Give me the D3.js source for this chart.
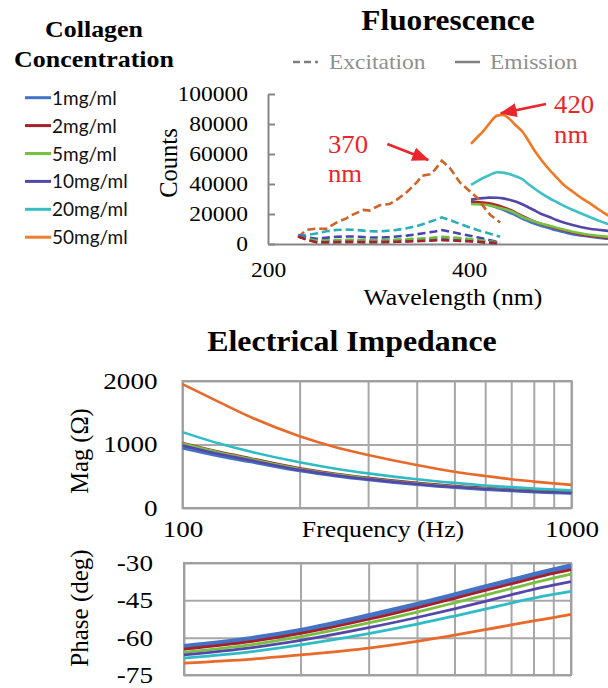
<!DOCTYPE html>
<html><head><meta charset="utf-8">
<script src="https://cdn.jsdelivr.net/npm/d3@7"></script>
<style>html,body{margin:0;padding:0;background:#fff;overflow:hidden}</style>
</head><body>
<svg id="c" width="608" height="688"></svg>
<script>
// ---------------- DATA ----------------
const seriesLabels = ['1mg/ml','2mg/ml','5mg/ml','10mg/ml','20mg/ml','50mg/ml'];

// Fluorescence excitation (dashed), counts in thousands
const exWave = [230,238,248,258,268,278,285,295,301,311,321,328,338,348,353,361,366,373,381,391,401,409,414,421,431];
const ex1  = [5.5,3.8,1.8,1.6,1.7,1.8,1.8,1.7,1.7,1.7,1.8,2.0,2.3,2.6,2.8,3.1,3.3,3.6,3.3,2.9,2.4,2.0,1.7,1.2,0.6];
const ex2  = [5.0,3.0,1.2,1.2,1.3,1.4,1.4,1.3,1.3,1.3,1.4,1.5,1.7,1.9,2.0,2.2,2.4,2.6,2.4,2.1,1.8,1.5,1.2,0.9,0.5];
const ex5  = [5.0,3.5,2.2,2.4,2.6,2.8,2.8,2.6,2.5,2.5,2.7,2.9,3.2,3.5,3.7,4.0,4.3,4.8,4.4,3.9,3.3,2.7,2.3,1.7,0.9];
const ex10 = [5.5,4.5,3.5,4.2,4.8,5.0,5.0,4.6,4.3,4.3,4.6,5.0,5.6,6.5,7.0,7.8,8.3,9.3,8.2,6.8,5.5,4.4,3.6,2.5,1.0];
const ex20 = [5.5,6.0,7.0,8.5,9.3,9.6,9.5,8.9,8.5,8.4,8.9,9.4,10.5,12.0,13.0,14.8,15.9,17.8,16.0,13.4,11.0,9.2,8.2,6.8,4.8];
const ex50 = [4.5,9.4,10.2,10.2,14.3,17.1,19.8,22.7,22.3,25.8,26.7,29.4,34.5,41.0,45.4,46.5,49.4,55.5,50.6,41.0,35.0,30.3,25.4,19.4,14.3];

// Fluorescence emission (solid), counts in thousands
const emWave = [402,408,414,420,428,434,440,447,453,459,465,472,480,487,495,503,511,520,528,536,550];
const em1  = [28.7,27.8,26.8,26.0,24.2,22.8,21.0,19.0,16.9,15.2,13.6,12.0,10.5,9.1,7.8,6.5,5.7,4.9,4.2,3.6,3.0];
const em2  = [28.2,28.0,27.6,27.1,25.8,24.5,23.0,20.8,18.7,16.8,15.0,13.4,11.8,10.4,9.0,7.6,6.6,5.6,4.9,4.2,3.5];
const em5  = [26.7,26.5,26.2,25.8,24.5,23.5,22.3,20.2,18.0,16.5,15.0,13.5,12.2,10.9,9.5,8.2,7.2,6.2,5.5,4.9,4.2];
const em10 = [29.6,30.2,30.6,30.9,30.8,30.4,29.5,28.2,26.5,24.5,22.5,20.0,18.0,16.0,14.2,12.7,11.4,10.2,9.5,8.9,8.0];
const em20 = [39.4,41.8,44.0,45.8,47.8,47.6,46.7,45.0,43.2,40.0,37.0,33.8,30.5,28.0,25.2,22.8,20.5,18.0,15.8,13.8,11.5];
const em50 = [66.8,71.0,75.1,80.1,85.6,86.0,83.5,78.8,75.0,69.0,62.5,56.0,49.5,44.5,39.0,35.0,31.0,27.2,23.5,20.0,16.0];

const fluoYTicks = [0,20,40,60,80,100];
const fluoXTicks = [200,400];

// Annotations (data units: nm, thousands of counts)
const annotations = [
  {lines:['370','nm'], wl:259.7, c:[60.5,41.5], tail:[318.7,66.7], tip:[359.5,56.0]},
  {lines:['420','nm'], wl:484.6, c:[87.1,67.5], tail:[476.6,93.3], tip:[431.5,87.1]}
];

// Impedance magnitude (Ohm)
const freqMag = [100,125,150,200,250,300,400,500,600,700,800,900,1000];
const mag1  = [950,820,730,590,505,448,372,325,296,274,257,245,235];
const mag2  = [1025,880,780,625,535,475,395,345,315,292,275,262,252];
const mag5  = [1015,870,770,615,525,465,385,335,305,283,265,252,242];
const mag10 = [985,845,750,600,513,455,378,330,300,278,261,248,238];
const mag20 = [1195,1010,885,720,615,545,452,395,355,328,308,292,280];
const mag50 = [1950,1660,1430,1130,950,835,677,572,505,452,416,388,364];
const magYTicks = [0,1000,2000];

// Impedance phase (deg)
const freqPh = [100,150,200,300,400,500,600,700,800,900,1000];
const ph1  = [-63.5,-60.3,-57.1,-51.2,-46.6,-42.8,-39.6,-37.0,-34.7,-32.8,-31.2];
const ph2  = [-64.6,-61.5,-58.3,-52.6,-48.0,-44.2,-41.0,-38.4,-36.1,-34.2,-32.7];
const ph5  = [-65.9,-62.8,-59.6,-54.1,-49.7,-46.0,-42.9,-40.3,-38.0,-36.1,-34.5];
const ph10 = [-66.9,-64.0,-61.1,-56.0,-51.9,-48.4,-45.4,-42.8,-40.6,-38.9,-37.5];
const ph20 = [-68.2,-65.6,-62.9,-58.4,-54.6,-51.3,-48.5,-46.1,-44.1,-42.6,-41.4];
const ph50 = [-70.2,-68.6,-66.9,-64.2,-61.5,-59.0,-56.8,-54.9,-53.3,-51.9,-50.6];
const phYTicks = [-75,-60,-45,-30];
const freqGrid = [100,200,300,400,500,600,700,800,900,1000];

// ---------------- STYLE ----------------
const SERIF = "'Liberation Serif','Times New Roman',serif";
const SANS = "Lato,'Liberation Sans',sans-serif";
const legendColors = ['#4472C4','#A5202A','#78C042','#5447A8','#33BDC3','#ED7D31'];
const exColors     = ['#3D6CC6','#A3222B','#6CBE3F','#4B44AA','#2BB0B8','#CF6428'];
const emColors     = ['#4472C4','#B0242C','#78C042','#5447A8','#3FC0C4','#F07A22'];
const impColors    = ['#4472C4','#A5202A','#78C042','#5447A8','#2FBCC4','#E8692A'];
const RED = '#E8262B';
const GRID = '#A8A8A8';
const AXIS = '#868686';

const svg = d3.select('#c');

function label(g, x, y, s, o = {}) {
  return g.append('text')
    .attr('transform', `translate(${x},${y})` + (o.rotate ? ` rotate(${o.rotate})` : '') + ` scale(${o.sx ?? 1.12},1)`)
    .attr('text-anchor', o.anchor || 'middle')
    .attr('font-family', o.family || SERIF)
    .attr('font-size', o.size || 22)
    .attr('font-weight', o.weight || 'normal')
    .attr('fill', o.fill || '#000')
    .text(s);
}
function stretchAxisText(g, sx, size) {
  g.selectAll('text').each(function () {
    const t = d3.select(this);
    const x = +t.attr('x') || 0, y = +t.attr('y') || 0;
    t.attr('transform', `translate(${x},${y}) scale(${sx},1)`).attr('x', 0).attr('y', 0)
     .attr('font-family', SERIF).attr('font-size', size).attr('fill', '#000');
  });
}
const plain = d => String(d);

// ---------------- LEGEND (left) ----------------
label(svg, 94, 37, 'Collagen', {weight:'bold', size:24, sx:1.08});
label(svg, 94, 67, 'Concentration', {weight:'bold', size:24, sx:1.08});
const leg = svg.append('g');
seriesLabels.forEach((s, i) => {
  const y = 97.7 + i * 27.9;
  leg.append('line').attr('x1', 25).attr('x2', 51).attr('y1', y).attr('y2', y)
    .attr('stroke', legendColors[i]).attr('stroke-width', 3);
  leg.append('text').attr('x', 52).attr('y', y + 7).attr('font-family', SANS)
    .attr('font-size', 19).attr('fill', '#111').text(s);
});

// ---------------- FLUORESCENCE ----------------
const xF = d3.scaleLinear().domain([200, 540]).range([268, 268 + 340 * 1.005]);
const yF = d3.scaleLinear().domain([0, 100]).range([244, 94]);
const fl = svg.append('g');

label(fl, 448, 29.5, 'Fluorescence', {weight:'bold', size:29, sx:1.08});
// legend
fl.append('line').attr('x1', 293).attr('x2', 318).attr('y1', 62).attr('y2', 62)
  .attr('stroke', '#7F7F7F').attr('stroke-width', 2.5).attr('stroke-dasharray', '7,4');
label(fl, 329, 69.3, 'Excitation', {anchor:'start', size:21, fill:'#8F8F8F'});
fl.append('line').attr('x1', 455).attr('x2', 480).attr('y1', 62).attr('y2', 62)
  .attr('stroke', '#7F7F7F').attr('stroke-width', 2.5);
label(fl, 490, 69.3, 'Emission', {anchor:'start', size:21, fill:'#8F8F8F'});

// axes
const fy = fl.append('g').attr('transform', `translate(${xF(200)},0)`)
  .call(d3.axisLeft(yF).tickValues(fluoYTicks).tickSizeInner(-7).tickSizeOuter(0).tickPadding(20)
    .tickFormat(d => String(d * 1000)));
fy.selectAll('path,line').attr('stroke', AXIS).attr('stroke-width', 2);
stretchAxisText(fy, 1.12, 21);

const fx = fl.append('g').attr('transform', `translate(0,${yF(0)})`)
  .call(d3.axisBottom(xF).tickValues(fluoXTicks).tickFormat(plain).tickSizeInner(0).tickSizeOuter(0).tickPadding(18));
fx.selectAll('path').attr('stroke', AXIS).attr('stroke-width', 2);
stretchAxisText(fx, 1.12, 21);

label(fl, 453, 305, 'Wavelength (nm)', {size:23, sx:1.12});
label(fl, 176.5, 163, 'Counts', {size:24.5, rotate:-90, sx:1.0});

const lineF = d3.line().x(d => xF(d[0])).y(d => yF(d[1])).curve(d3.curveMonotoneX);
const exSeries = [ex1, ex2, ex5, ex10, ex20, ex50];
const emSeries = [em1, em2, em5, em10, em20, em50];
// emission (solid)
[5, 4, 3, 0, 1, 2].forEach(i => {
  fl.append('path').datum(emWave.map((w, k) => [w, emSeries[i][k]]))
    .attr('d', lineF).attr('fill', 'none').attr('stroke', emColors[i]).attr('stroke-width', 2.6);
});
// excitation (dashed)
[5, 4, 3, 0, 2, 1].forEach(i => {
  fl.append('path').datum(exWave.map((w, k) => [w, exSeries[i][k]]))
    .attr('d', d3.line().x(d => xF(d[0])).y(d => yF(d[1])))
    .attr('fill', 'none').attr('stroke', exColors[i])
    .attr('stroke-width', i === 0 ? 4 : 2.6).attr('stroke-dasharray', '8,4');
});

// annotations
svg.append('defs').append('marker').attr('id', 'ah').attr('markerUnits', 'userSpaceOnUse')
  .attr('markerWidth', 17).attr('markerHeight', 14).attr('refX', 16).attr('refY', 7).attr('orient', 'auto')
  .append('path').attr('d', 'M0,0 L17,7 L0,14 Z').attr('fill', RED);
annotations.forEach(a => {
  a.lines.forEach((s, k) => label(fl, xF(a.wl), yF(a.c[k]), s, {anchor:'start', size:25, sx:1.07, fill:RED}));
  fl.append('line').attr('x1', xF(a.tail[0])).attr('y1', yF(a.tail[1]))
    .attr('x2', xF(a.tip[0])).attr('y2', yF(a.tip[1]))
    .attr('stroke', RED).attr('stroke-width', 2.6).attr('marker-end', 'url(#ah)');
});

// ---------------- IMPEDANCE MAGNITUDE ----------------
const xM = d3.scaleLog().domain([100, 1000]).range([182.5, 571.5]);
const yM = d3.scaleLinear().domain([0, 2000]).range([508, 381]);
const mg = svg.append('g');
label(mg, 352, 351, 'Electrical Impedance', {weight:'bold', size:29, sx:1.1});

const mgy = mg.append('g').attr('transform', `translate(${xM(100)},0)`)
  .call(d3.axisLeft(yM).tickValues(magYTicks).tickFormat(plain).tickSize(-(xM(1000) - xM(100))).tickPadding(25));
mgy.select('.domain').remove();
mgy.selectAll('line').attr('stroke', GRID).attr('stroke-width', 2);
stretchAxisText(mgy, 1.18, 23);

const mgx = mg.append('g').attr('transform', `translate(0,${yM(0)})`)
  .call(d3.axisBottom(xM).tickValues(freqGrid).tickSize(-(yM(0) - yM(2000))).tickPadding(13)
    .tickFormat(d => (d === 100 || d === 1000) ? String(d) : ''));
mgx.select('.domain').remove();
mgx.selectAll('line').attr('stroke', GRID).attr('stroke-width', 2);
stretchAxisText(mgx, 1.18, 23);
mg.append('rect').attr('x', xM(100)).attr('y', yM(2000)).attr('width', xM(1000) - xM(100))
  .attr('height', yM(0) - yM(2000)).attr('fill', 'none').attr('stroke', '#A0A0A0').attr('stroke-width', 2);

label(mg, 383, 537, 'Frequency (Hz)', {size:23, sx:1.12});
label(mg, 88, 451, 'Mag (Ω)', {size:24.5, rotate:-90, sx:1.0});

const magSeries = [mag1, mag2, mag5, mag10, mag20, mag50];
const lineM = d3.line().x(d => xM(d[0])).y(d => yM(d[1])).curve(d3.curveMonotoneX);
[0, 1, 2, 3, 4, 5].forEach(i => {
  mg.append('path').datum(freqMag.map((f, k) => [f, magSeries[i][k]]))
    .attr('d', lineM).attr('fill', 'none').attr('stroke', impColors[i])
    .attr('stroke-width', i === 0 ? 3.5 : 2.6);
});

// ---------------- IMPEDANCE PHASE ----------------
const xP = d3.scaleLog().domain([100, 1000]).range([184, 571]);
const yP = d3.scaleLinear().domain([-75, -30]).range([675, 563]);
const ph = svg.append('g');
const phy = ph.append('g').attr('transform', `translate(${xP(100)},0)`)
  .call(d3.axisLeft(yP).tickValues(phYTicks).tickFormat(plain).tickSize(-(xP(1000) - xP(100))).tickPadding(31));
phy.select('.domain').remove();
phy.selectAll('line').attr('stroke', GRID).attr('stroke-width', 2);
stretchAxisText(phy, 1.18, 23);
const phx = ph.append('g').attr('transform', `translate(0,${yP(-75)})`)
  .call(d3.axisBottom(xP).tickValues(freqGrid).tickSize(-(yP(-75) - yP(-30))).tickFormat(''));
phx.select('.domain').remove();
phx.selectAll('line').attr('stroke', GRID).attr('stroke-width', 2);
ph.append('rect').attr('x', xP(100)).attr('y', yP(-30)).attr('width', xP(1000) - xP(100))
  .attr('height', yP(-75) - yP(-30)).attr('fill', 'none').attr('stroke', '#A0A0A0').attr('stroke-width', 2);
label(ph, 88, 608, 'Phase (deg)', {size:25, rotate:-90, sx:1.0});

const phSeries = [ph1, ph2, ph5, ph10, ph20, ph50];
const lineP = d3.line().x(d => xP(d[0])).y(d => yP(d[1])).curve(d3.curveMonotoneX);
[0, 1, 2, 3, 4, 5].forEach(i => {
  ph.append('path').datum(freqPh.map((f, k) => [f, phSeries[i][k]]))
    .attr('d', lineP).attr('fill', 'none').attr('stroke', impColors[i])
    .attr('stroke-width', i === 0 ? 5 : 2.8);
});
</script>
</body></html>
